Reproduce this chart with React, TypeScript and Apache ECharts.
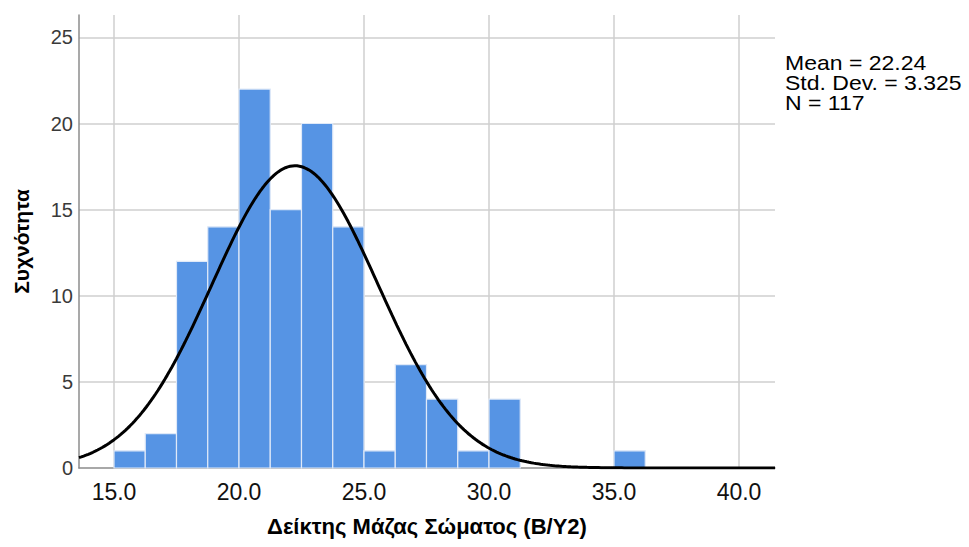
import React, { useEffect, useRef } from "react";
import * as echarts from "echarts";

// Histogram data
const binWidth = 1.25;
const binStarts = [15.0, 16.25, 17.5, 18.75, 20.0, 21.25, 22.5, 23.75, 25.0, 26.25, 27.5, 28.75, 30.0, 35.0];
const binCounts = [1, 2, 12, 14, 22, 15, 20, 14, 1, 6, 4, 1, 4, 1];

// Summary statistics shown in the chart
const statMean = 22.24;
const statSd = 3.325;
const statN = 117;

const xMin = 13.6;
const xMax = 41.44;
const yMax = 26.3;

const xTitle = "Δείκτης Μάζας Σώματος (Β/Υ2)";
const yTitle = "Συχνότητα";

const FONT = "'Liberation Sans', Arial, Helvetica, sans-serif";

function normalCurve(): number[][] {
  const pts: number[][] = [];
  const scale = (statN * binWidth) / (statSd * Math.sqrt(2 * Math.PI));
  for (let i = 0; i <= 300; i++) {
    const x = xMin + ((xMax - xMin) * i) / 300;
    const z = (x - statMean) / statSd;
    pts.push([x, scale * Math.exp(-0.5 * z * z)]);
  }
  return pts;
}

export default function App() {
  const ref = useRef<HTMLDivElement>(null);

  useEffect(() => {
    if (!ref.current) return;
    const chart = echarts.init(ref.current, undefined, { renderer: "svg" });
    const bars = binStarts.map((s, i) => [s, s + binWidth, binCounts[i]]);

    chart.setOption({
      animation: false,
      backgroundColor: "#ffffff",
      textStyle: { fontFamily: FONT },
      grid: { left: 79, right: 194, top: 15, bottom: 79 },
      xAxis: {
        type: "value",
        min: xMin,
        max: xMax,
        splitNumber: 5,
        name: xTitle,
        nameLocation: "middle",
        nameGap: 47,
        nameTextStyle: { fontFamily: FONT, fontSize: 22, fontWeight: "bold", color: "#000" },
        axisLine: { show: true, onZero: false, lineStyle: { color: "#8c8c8c", width: 1.5 } },
        axisTick: { show: false },
        axisLabel: {
          showMinLabel: false,
          showMaxLabel: false,
          margin: 12,
          fontSize: 23,
          fontFamily: FONT,
          color: "#111",
          formatter: (v: number) => v.toFixed(1),
        },
        splitLine: {
          show: true,
          showMinLine: false,
          showMaxLine: false,
          lineStyle: { color: "#cfcfcf", width: 1.5 },
        },
      },
      yAxis: {
        type: "value",
        min: 0,
        max: yMax,
        interval: 5,
        name: yTitle,
        nameLocation: "middle",
        nameGap: 47,
        nameTextStyle: { fontFamily: FONT, fontSize: 21, fontWeight: "bold", color: "#000" },
        axisLine: { show: true, lineStyle: { color: "#8c8c8c", width: 1.5 } },
        axisTick: { show: false },
        axisLabel: {
          showMaxLabel: false,
          margin: 6,
          fontSize: 20,
          fontFamily: FONT,
          color: "#3a3a3a",
        },
        splitLine: {
          show: true,
          showMinLine: false,
          showMaxLine: false,
          lineStyle: { color: "#cfcfcf", width: 1.5 },
        },
      },
      graphic: [
        {
          type: "text",
          x: 785,
          y: 53,
          scaleX: 1.15,
          style: {
            text: `Mean = ${statMean.toFixed(2)}\nStd. Dev. = ${statSd.toFixed(3)}\nN = ${statN}`,
            fontFamily: FONT,
            fontSize: 20,
            lineHeight: 20,
            fill: "#000",
            verticalAlign: "top",
          },
        },
      ],
      series: [
        {
          type: "custom",
          data: bars,
          encode: { x: [0, 1], y: 2 },
          renderItem: (params: any, api: any) => {
            const p0 = api.coord([api.value(0), api.value(2)]);
            const p1 = api.coord([api.value(1), 0]);
            return {
              type: "rect",
              shape: { x: p0[0], y: p0[1], width: p1[0] - p0[0], height: p1[1] - p0[1] },
              style: { fill: "#5694e4", stroke: "#dfe9f8", lineWidth: 1.2 },
            };
          },
          z: 2,
        },
        {
          type: "line",
          data: normalCurve(),
          showSymbol: false,
          symbol: "none",
          smooth: false,
          lineStyle: { color: "#000", width: 3 },
          z: 3,
        },
      ],
    });
    return () => chart.dispose();
  }, []);

  return (
    <div
      ref={ref}
      style={{ position: "fixed", left: 0, top: 0, width: 969, height: 547, background: "#fff" }}
    />
  );
}
